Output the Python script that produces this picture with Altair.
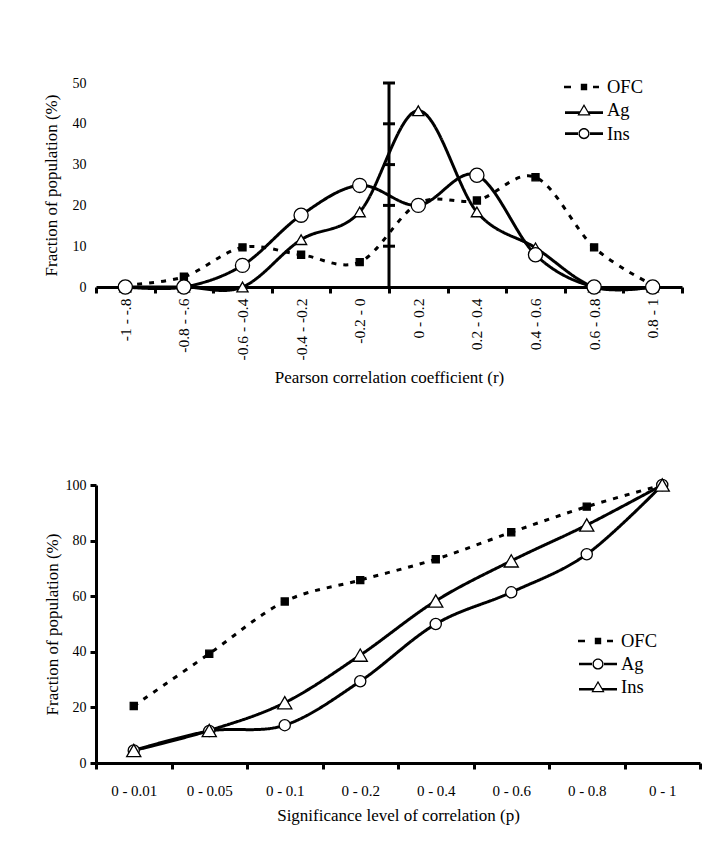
import altair as alt
import pandas as pd

FONT = "Liberation Serif"

series = ["OFC", "Ag", "Ins"]

# ---- top panel: distribution of Pearson r ----
top_cats = ["-1 - -.8", "-0.8 - -.6", "-0.6 - -0.4", "-0.4 - -0.2", "-0.2 - 0",
            "0 - 0.2", "0.2 - 0.4", "0.4 - 0.6", "0.6 - 0.8", "0.8 - 1"]
top_ofc = [0.5, 2.5, 9.7, 7.9, 6.1, 20.5, 21.2, 26.9, 9.7, 0.5]
top_ag = [0, 0, 0, 11.6, 18.4, 43.2, 18.4, 9.6, 0, 0]
top_ins = [0, 0, 5.3, 17.6, 24.9, 20.0, 27.4, 7.9, 0, 0]
top_yticks = [0, 10, 20, 30, 40, 50]
top_cross_ticks = [10, 20, 30, 40, 50]
top_zero_cat = "0 - 0.2"

# ---- bottom panel: cumulative significance ----
bot_cats = ["0 - 0.01", "0 - 0.05", "0 - 0.1", "0 - 0.2", "0 - 0.4", "0 - 0.6", "0 - 0.8", "0 - 1"]
bot_ofc = [20.5, 39.3, 58.1, 65.8, 73.3, 83.0, 92.2, 100]
bot_ag = [4.5, 11.5, 13.6, 29.4, 50.0, 61.4, 75.1, 100]
bot_ins = [4.5, 11.7, 21.7, 38.8, 58.3, 72.7, 85.6, 100]
bot_yticks = [0, 20, 40, 60, 80, 100]

fills = ["black", "white", "white"]
dashes = [[5, 7], [1, 0], [1, 0]]

# legend symbols: line + marker drawn as one filled custom path (units of sqrt(size)/2)
P_OFC = ("M-2,-0.13H-1.3V0.13H-2Z M-0.32,-0.32H0.32V0.32H-0.32Z M0.9,-0.13H1.5V0.13H0.9Z")
P_TRI = ("M-1.9,0.1H-0.42V0.36H-1.9Z M0.42,0.1H1.9V0.36H0.42Z "
         "M0,-0.62L0.66,0.52L-0.66,0.52Z M0,-0.38L-0.46,0.4L0.46,0.4Z")
P_CIR = ("M-1.9,-0.13H-0.5V0.13H-1.9Z M0.5,-0.13H1.9V0.13H0.5Z "
         "M-0.56,0A0.56,0.56 0 1,0 0.56,0A0.56,0.56 0 1,0 -0.56,0Z "
         "M-0.42,0A0.42,0.42 0 1,1 0.42,0A0.42,0.42 0 1,1 -0.42,0Z")


def long_df(cats, vals_list):
    rows = []
    for name, vals in zip(series, vals_list):
        for i, (c, v) in enumerate(zip(cats, vals)):
            rows.append({"cat": c, "series": name, "value": v, "idx": i})
    return pd.DataFrame(rows)


def panel(cats, vals_list, shapes, sizes, leg_paths, ymax, xaxis, yaxis, legx, legy, legrow):
    df = long_df(cats, vals_list)
    xscale = alt.Scale(type="band", domain=cats, paddingInner=0, paddingOuter=0)
    yscale = alt.Scale(domain=[0, ymax], nice=False)
    base = alt.Chart(df)
    lines = base.mark_line(interpolate="cardinal", tension=0, strokeWidth=3, color="black").encode(
        x=alt.X("cat:N", scale=xscale, sort=cats, axis=xaxis),
        y=alt.Y("value:Q", scale=yscale, axis=yaxis),
        detail="series:N",
        strokeDash=alt.StrokeDash("series:N", scale=alt.Scale(domain=series, range=dashes), legend=None),
        order="idx:Q",
    )
    pts = base.mark_point(filled=True, stroke="black", strokeWidth=1.3, opacity=1).encode(
        x=alt.X("cat:N", scale=xscale, sort=cats),
        y=alt.Y("value:Q", scale=yscale),
        shape=alt.Shape("series:N", scale=alt.Scale(domain=series, range=shapes), legend=None),
        fill=alt.Fill("series:N", scale=alt.Scale(domain=series, range=fills), legend=None),
        size=alt.Size("series:N", scale=alt.Scale(domain=series, range=sizes), legend=None),
    )
    leg = alt.Legend(orient="none", legendX=legx, legendY=legy, title=None, labelFont=FONT,
                     labelFontSize=18.5, labelColor="black", labelOffset=13, rowPadding=legrow,
                     padding=0, symbolSize=400, symbolStrokeWidth=0, symbolFillColor="black",
                     symbolOpacity=1)
    legend_layer = base.mark_point(filled=True, color="black", size=400, opacity=1).transform_filter(
        "false").encode(
        shape=alt.Shape("series:N", scale=alt.Scale(domain=series, range=leg_paths), legend=leg),
    )
    return lines, pts, legend_layer, xscale, yscale


# top
t_xaxis = alt.Axis(title="Pearson correlation coefficient (r)", labelAngle=-90, tickBand="extent",
                   tickSize=6, labelPadding=5, titlePadding=10, labelFontSize=15.5, titleFontSize=17)
t_yaxis = alt.Axis(title="Fraction of population (%)", values=top_yticks, domain=False, ticks=False,
                   labelPadding=10, titlePadding=12, labelFontSize=14, titleFontSize=17)
TOP_W, TOP_H = 586, 204
t_lines, t_pts, t_leg, t_xs, t_ys = panel(
    top_cats, [top_ofc, top_ag, top_ins], ["square", "triangle-up", "circle"], [50, 200, 170],
    [P_OFC, P_TRI, P_CIR], 50, t_xaxis, t_yaxis, 478, -6, 3.3)

zero_df = pd.DataFrame({"cat": [top_zero_cat]})
cross_df = pd.DataFrame({"cat": [top_zero_cat] * len(top_cross_ticks), "value": top_cross_ticks})
t_rule = alt.Chart(zero_df).mark_rule(strokeWidth=3, color="black").encode(
    x=alt.X("cat:N", scale=t_xs, sort=top_cats, bandPosition=0))
t_cross = alt.Chart(cross_df).mark_tick(orient="horizontal", size=12, thickness=3, color="black",
                                        opacity=1, xOffset=-TOP_W / len(top_cats) / 2).encode(
    x=alt.X("cat:N", scale=t_xs, sort=top_cats),
    y=alt.Y("value:Q", scale=t_ys))

top = alt.layer(t_lines, t_rule, t_cross, t_pts, t_leg).resolve_scale(
    shape="independent").properties(width=TOP_W, height=TOP_H)

# bottom
b_xaxis = alt.Axis(title="Significance level of correlation (p)", labelAngle=0, tickBand="extent",
                   tickSize=6, labelPadding=14, titlePadding=9, labelFontSize=15, titleFontSize=17)
b_yaxis = alt.Axis(title="Fraction of population (%)", values=bot_yticks, tickSize=6, labelPadding=4,
                   titlePadding=4, labelFontSize=14, titleFontSize=17)
b_lines, b_pts, b_leg, b_xs, b_ys = panel(
    bot_cats, [bot_ofc, bot_ag, bot_ins], ["square", "circle", "triangle-up"], [50, 180, 200],
    [P_OFC, P_CIR, P_TRI], 100, b_xaxis, b_yaxis, 492, 146, 3)

bottom = alt.layer(b_lines, b_pts, b_leg).resolve_scale(
    shape="independent").properties(width=604, height=278)

chart = alt.vconcat(top, bottom, spacing=90).properties(
    padding={"left": 34, "top": 68, "right": 5, "bottom": 5}
).configure_view(stroke=None).configure_axis(
    domainColor="black", domainWidth=3, tickColor="black", tickWidth=3, labelColor="black",
    titleColor="black", labelFont=FONT, titleFont=FONT, titleFontWeight="normal", grid=False
).configure_legend(labelFont=FONT)

chart.save("out.html", embed_options={"renderer": "svg", "actions": False})
